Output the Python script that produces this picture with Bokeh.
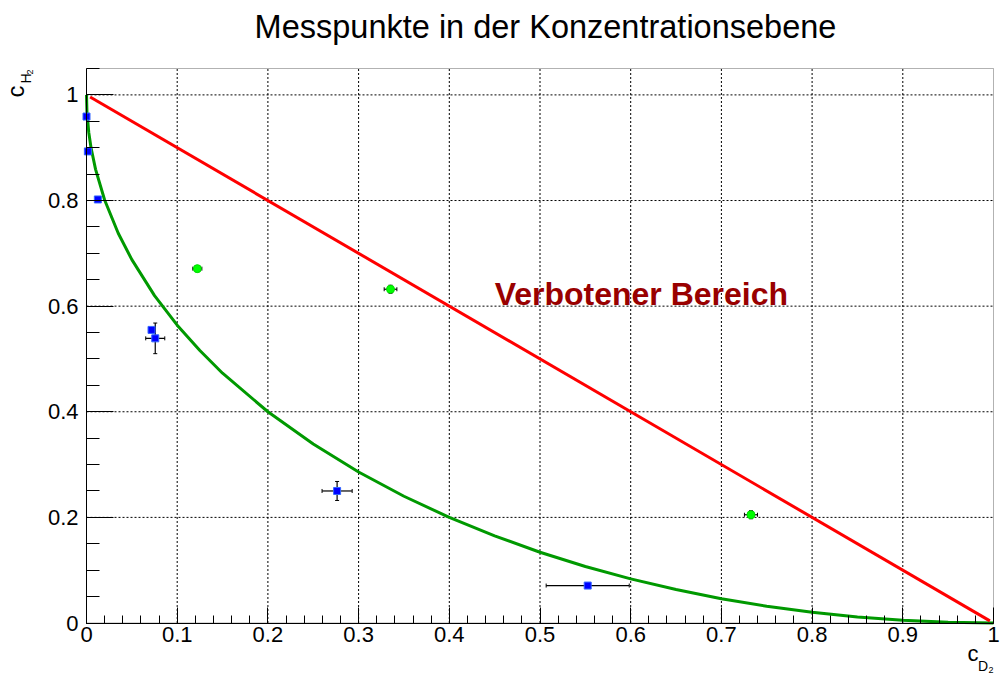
from math import pi
from bokeh.plotting import figure
from bokeh.models import (ColumnDataSource, Whisker, TeeHead, Label, FixedTicker, Range1d,
                          BoxAnnotation)
from bokeh.embed import file_html
from bokeh.resources import INLINE

FONT = "Liberation Sans"

# ---- texts ----
title_text = "Messpunkte in der Konzentrationsebene"
region_text = "Verbotener Bereich"

# ---- axis extents and ticks ----
x_lim = [0, 1]
y_lim = [0, 1.05]
x_ticks = [0, 0.1, 0.2, 0.3, 0.4, 0.5, 0.6, 0.7, 0.8, 0.9, 1]
x_tick_labels = ["0", "0.1", "0.2", "0.3", "0.4", "0.5", "0.6", "0.7", "0.8", "0.9", "1"]
x_minor = [round(i * 0.02, 2) for i in range(51)]
y_ticks = [0, 0.2, 0.4, 0.6, 0.8, 1]
y_tick_labels = ["0", "0.2", "0.4", "0.6", "0.8", "1"]
y_minor = [round(i * 0.05, 2) for i in range(22)]

# ---- measured points (blue squares) ----
blue_x = [0.0, 0.0015, 0.0125, 0.0717, 0.0758, 0.2763, 0.5526]
blue_y = [0.959, 0.893, 0.802, 0.555, 0.539, 0.250, 0.0709]
blue_ex = [0.0, 0.0, 0.0, 0.0, 0.0105, 0.0166, 0.0458]
blue_ey = [0.0, 0.0, 0.0, 0.0, 0.029, 0.018, 0.0]

# ---- measured points (green circles) ----
green_x = [0.1222, 0.3352, 0.7326]
green_y = [0.671, 0.632, 0.205]
green_ex = [0.005, 0.007, 0.0072]
green_ey = [0.006, 0.0076, 0.0076]

# ---- red boundary line ----
line_x = [0.004, 0.996]
line_y = [0.996, 0.004]

# ---- green curve ----
curve_x = [0.0, 0.0005, 0.0025, 0.005, 0.01, 0.02, 0.035, 0.05, 0.075, 0.1, 0.125, 0.15,
           0.2, 0.25, 0.3, 0.35, 0.4, 0.45, 0.5, 0.55, 0.6, 0.65, 0.7, 0.75, 0.8, 0.85,
           0.9, 0.95, 1.0]
curve_y = [1.0, 0.968, 0.929, 0.900, 0.859, 0.801, 0.738, 0.688, 0.620, 0.564, 0.516, 0.473,
           0.400, 0.339, 0.286, 0.240, 0.200, 0.165, 0.134, 0.107, 0.0835, 0.0633, 0.0461,
           0.0318, 0.0202, 0.0113, 0.0050, 0.00125, 0.0]

# canvas: the data frame [0,1]x[0,1.05] sits at px 86..993 / 68..622.5 of a 1000x676 canvas
W, H = 1000, 676
fl, fr, ft, fb = 86, 993, 68, 622.5
sx = (fr - fl) / (x_lim[1] - x_lim[0])
sy = (fb - ft) / (y_lim[1] - y_lim[0])
x_range = Range1d(x_lim[0] - fl / sx, x_lim[1] + (W - fr) / sx)
y_range = Range1d(y_lim[0] - (H - fb) / sy, y_lim[1] + ft / sy)

p = figure(width=W, height=H, x_range=x_range, y_range=y_range,
           output_backend="svg", toolbar_location=None,
           min_border_left=0, min_border_right=0, min_border_top=0, min_border_bottom=0,
           background_fill_color="white", border_fill_color="white",
           outline_line_color=None)
p.xgrid.visible = False
p.ygrid.visible = False


def px_to_x(px):
    return x_lim[0] + (px - fl) / sx


def py_to_y(py):
    return y_lim[0] + (fb - py) / sy


# axes drawn at the data origin
p.xaxis.fixed_location = 0
p.yaxis.fixed_location = 0
p.xaxis.bounds = (x_lim[0], x_lim[1])
p.yaxis.bounds = (y_lim[0], y_lim[1])
p.xaxis.ticker = FixedTicker(ticks=x_ticks, minor_ticks=x_minor)
p.yaxis.ticker = FixedTicker(ticks=y_ticks, minor_ticks=y_minor)
p.xaxis.major_label_overrides = dict(zip(x_ticks, x_tick_labels))
p.yaxis.major_label_overrides = dict(zip(y_ticks, y_tick_labels))
for ax in (p.xaxis, p.yaxis):
    ax.axis_line_color = "black"
    ax.major_tick_line_color = "black"
    ax.minor_tick_line_color = "black"
    ax.major_tick_out = 0
    ax.minor_tick_out = 0
    ax.major_label_text_font = FONT
    ax.major_label_text_font_size = "22px"
    ax.major_label_text_color = "black"
p.xaxis.major_tick_in = 16
p.xaxis.minor_tick_in = 8
p.xaxis.major_label_standoff = 4
p.yaxis.major_tick_in = 27
p.yaxis.minor_tick_in = 13
p.yaxis.major_label_standoff = 8

# dotted grid inside the data frame
gx = [t for t in x_ticks if x_lim[0] < t < x_lim[1]]
gy = [t for t in y_ticks if y_lim[0] < t < y_lim[1]]
p.segment(x0=gx, y0=[y_lim[0]] * len(gx), x1=gx, y1=[y_lim[1]] * len(gx),
          line_color="black", line_width=1, line_dash="2 2")
p.segment(x0=[x_lim[0]] * len(gy), y0=gy, x1=[x_lim[1]] * len(gy), y1=gy,
          line_color="black", line_width=1, line_dash="2 2")

# curves
p.line(curve_x, curve_y, line_color="#009900", line_width=3)
p.line(line_x, line_y, line_color="#ff0000", line_width=3)


# error bars
def add_errors(xs, ys, exs, eys):
    src = ColumnDataSource(dict(
        x=xs, y=ys,
        xl=[a - e for a, e in zip(xs, exs)], xu=[a + e for a, e in zip(xs, exs)],
        yl=[a - e for a, e in zip(ys, eys)], yu=[a + e for a, e in zip(ys, eys)]))
    for dim, base, lo, up in (("width", "y", "xl", "xu"), ("height", "x", "yl", "yu")):
        w = Whisker(source=src, base=base, lower=lo, upper=up, dimension=dim,
                    line_color="black", line_width=1.2,
                    upper_head=TeeHead(size=4, line_color="black", line_width=1),
                    lower_head=TeeHead(size=4, line_color="black", line_width=1))
        p.add_layout(w)


add_errors(blue_x, blue_y, blue_ex, blue_ey)
add_errors(green_x, green_y, green_ex, green_ey)

p.scatter(blue_x, blue_y, marker="square", size=7, fill_color="#0000ff", line_color="#3366ff")
p.scatter(green_x, green_y, marker="circle", size=8, fill_color="#00ff00", line_color="#00dd00")

# frame box
p.add_layout(BoxAnnotation(left=x_lim[0], right=x_lim[1], bottom=y_lim[0], top=y_lim[1],
                           fill_alpha=0, line_color="black", line_width=1))


def label(px, py, text, size, angle=0.0, align="left", bold=False, color="black"):
    p.add_layout(Label(x=px_to_x(px), y=py_to_y(py), text=text, angle=angle,
                       text_align=align, text_baseline="middle", text_font=FONT,
                       text_font_size=size, text_color=color,
                       text_font_style="bold" if bold else "normal"))


# title (anchor = vertical middle of the capitals)
label(545, 26, title_text, "32.5px", align="center")
# forbidden region text
p.add_layout(Label(x=0.45, y=py_to_y(293.5), text=region_text, text_align="left",
                   text_baseline="middle", text_font=FONT, text_font_size="32px",
                   text_font_style="bold", text_color="#990000"))

# y axis title c_{H_2} (rotated)
label(14.6, 97, "c", "24px", angle=pi / 2)
label(25.1, 83, "H", "14px", angle=pi / 2)
label(29.9, 74, "2", "9px", angle=pi / 2)

# x axis title c_{D_2}
label(967, 652.5, "c", "22px")
label(977.5, 665.5, "D", "14px")
label(988, 669.9, "2", "9px")

open("out.html", "w").write(file_html(p, INLINE))
